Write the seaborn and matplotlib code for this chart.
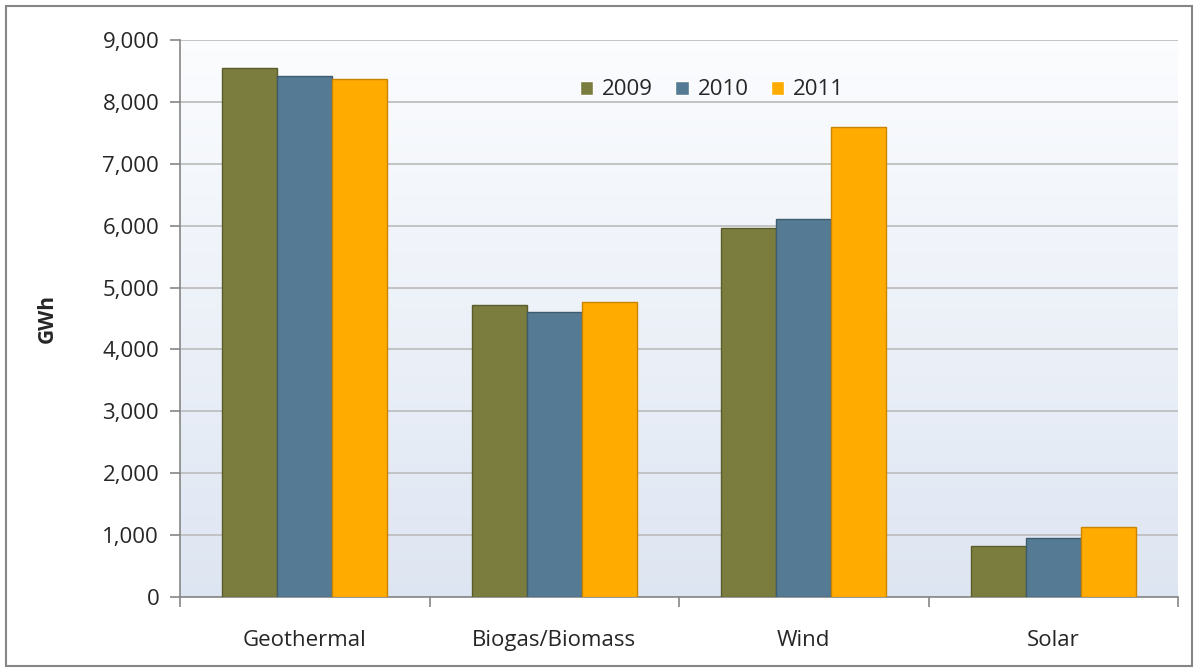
import matplotlib
matplotlib.use("Agg")
import matplotlib.pyplot as plt
import seaborn as sns
import numpy as np
import pandas as pd
from matplotlib.patches import Rectangle
from matplotlib.ticker import FuncFormatter, FixedLocator

categories = ["Geothermal", "Biogas/Biomass", "Wind", "Solar"]
years = ["2009", "2010", "2011"]
values_2009 = [8550, 4720, 5970, 830]
values_2010 = [8420, 4610, 6100, 960]
values_2011 = [8370, 4770, 7590, 1130]
colors = ["#7b7d3e", "#547b93", "#ffab00"]
edge_colors = ["#5a5c2a", "#3d5c70", "#c98400"]

df = pd.DataFrame({
    "category": categories * 3,
    "year": sum([[y] * len(categories) for y in years], []),
    "value": values_2009 + values_2010 + values_2011,
})

sns.set_style("white")
plt.rcParams["font.family"] = ["Open Sans", "DejaVu Sans"]

fig = plt.figure(figsize=(11.98, 6.72), dpi=100)
ax = fig.add_axes([180 / 1198, 1 - 597 / 672, (1178 - 180) / 1198, (597 - 40) / 672])

# gradient background
grad = np.linspace(0, 1, 256).reshape(-1, 1)
top = np.array([0.985, 0.99, 0.997])
bot = np.array([0.87, 0.9, 0.95])
img = top[None, None, :] * (1 - grad[:, :, None]) + bot[None, None, :] * grad[:, :, None]
ax.imshow(img, extent=[-0.5, 3.5, 0, 9000], aspect="auto", zorder=0, origin="upper")

sns.barplot(data=df, x="category", y="value", hue="year", palette=colors,
            width=0.66, gap=0, ax=ax, zorder=3, saturation=1, errorbar=None)

for i, cont in enumerate(ax.containers):
    for bar in cont:
        bar.set_edgecolor(edge_colors[i])
        bar.set_linewidth(1.0)

ax.set_xlim(-0.5, 3.5)
ax.set_ylim(0, 9000)
ax.set_yticks(np.arange(0, 9001, 1000))
ax.yaxis.set_major_formatter(FuncFormatter(lambda v, p: f"{int(v):,}"))
ax.grid(axis="y", color="#bfbfbf", linewidth=1.3, zorder=1)
ax.set_axisbelow(True)

for s in ["top", "right"]:
    ax.spines[s].set_visible(False)
for s in ["left", "bottom"]:
    ax.spines[s].set_color("#868686")
    ax.spines[s].set_linewidth(1.2)

ax.tick_params(axis="y", which="major", length=7, width=1.2, color="#868686",
               labelsize=16, pad=8, left=True, direction="out")
ax.xaxis.set_minor_locator(FixedLocator([-0.5, 0.5, 1.5, 2.5, 3.5]))
ax.tick_params(axis="x", which="major", length=0, labelsize=16, pad=24)
ax.tick_params(axis="x", which="minor", length=7, width=1.2, color="#868686",
               bottom=True, direction="out")
ax.set_xlabel("")
ax.set_ylabel("GWh", fontsize=15, fontweight="bold", labelpad=32)

leg = ax.legend(loc="upper center", bbox_to_anchor=(0.533, 0.965), ncol=3, frameon=False,
                fontsize=16, handlelength=0.6, handleheight=0.6, handletextpad=0.4,
                columnspacing=1.0)

fig.patches.append(Rectangle((6 / 1198, 6 / 672), 1186 / 1198, 660 / 672,
                             transform=fig.transFigure, fill=False,
                             edgecolor="#868686", linewidth=1.5))

fig.savefig("out.png", dpi=100)
